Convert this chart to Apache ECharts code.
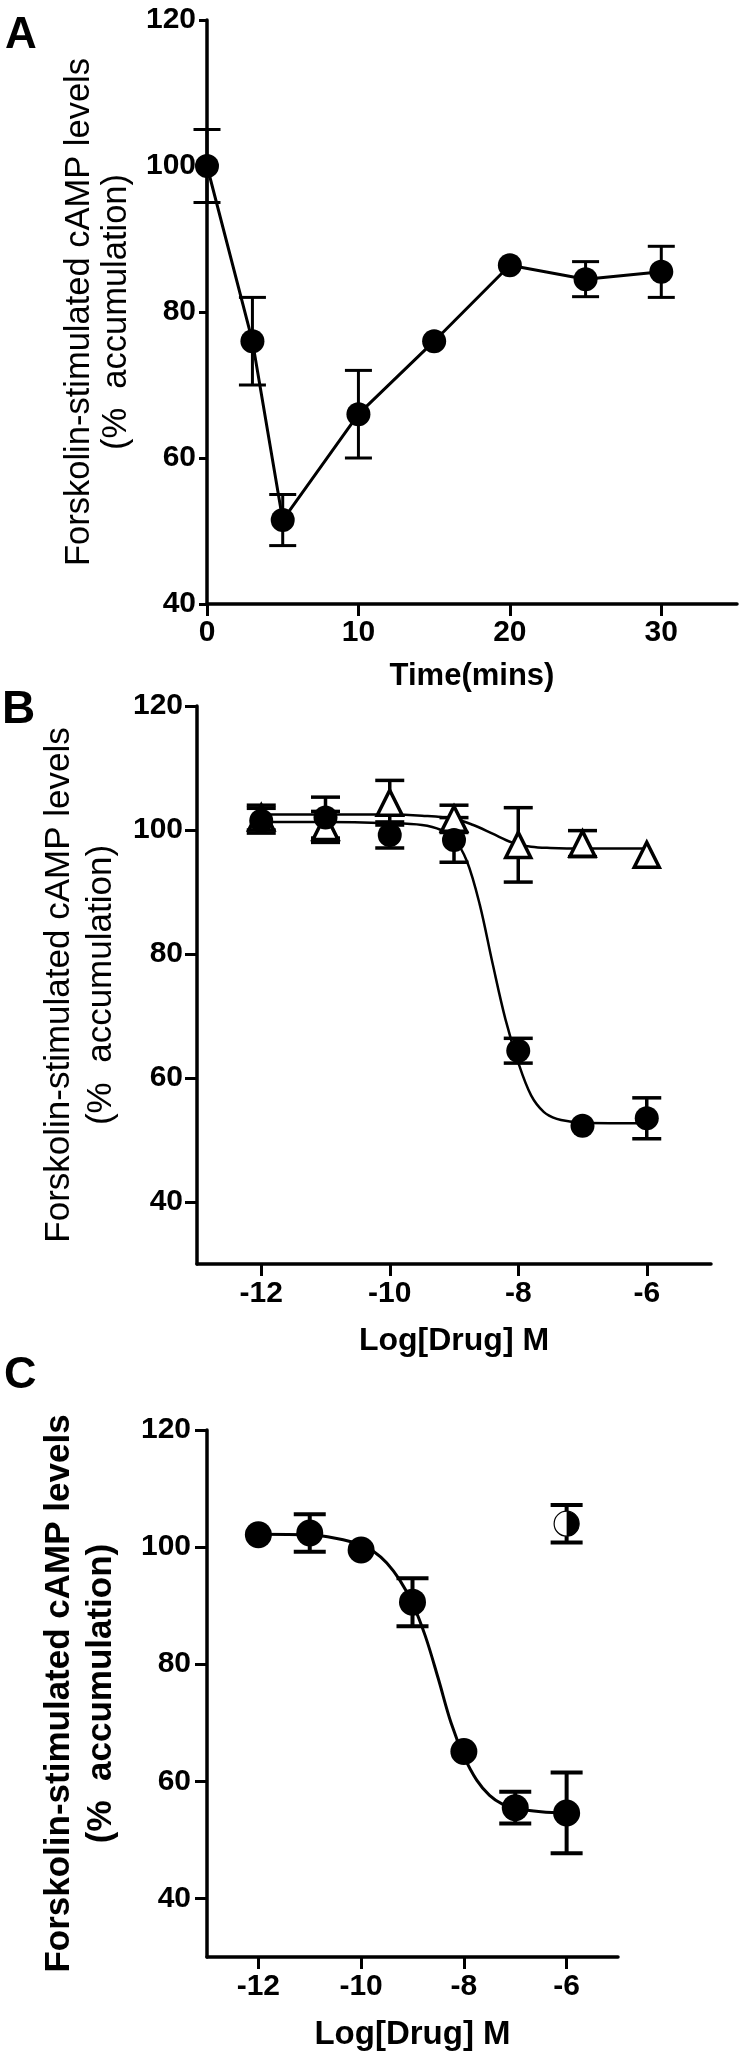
<!DOCTYPE html>
<html>
<head>
<meta charset="utf-8">
<title>Forskolin-stimulated cAMP levels</title>
<script src="https://cdn.jsdelivr.net/npm/echarts@6/dist/echarts.min.js"></script>
<style>
  html, body { margin: 0; padding: 0; background: #fff; }
  #chart { width: 747px; height: 2063px; }
</style>
</head>
<body>
<div id="chart"></div>
<script>
// panel A: time course
const timeMins = [0, 3, 5, 10, 15, 20, 25, 30];
const timeMean = [100, 76, 51.5, 66, 76, 86.4, 84.5, 85.5];
const timeErr = [5, 6, 3.5, 6, 0, 0, 2.4, 3.5];
const timeTicks = [0, 10, 20, 30];
const percentTicks = [40, 60, 80, 100, 120];

// panel B: concentration-response, two drugs
const logDose = [-12, -11, -10, -9, -8, -7, -6];
const bCircleMean = [101.5, 102, 99.2, 98.4, 64.4, 52.3, 53.5];
const bCircleErr = [2, 3.3, 2.1, 3.6, 2, 0, 3.3];
const bTriangleMean = [102, 100.5, 104.4, 101.8, 97.6, 97.8, 96];
const bTriangleErr = [2, 2.5, 3.6, 2.2, 6, 2.1, 0];
const bCircleFitX = [-12, -11, -10, -9.5, -9.2, -9, -8.8, -8.6, -8.4, -8.2, -8, -7.8, -7.6, -7.4, -7.2, -7, -6];
const bCircleFitY = [101.3, 101.3, 101.1, 100.8, 100, 98.6, 95, 88, 78.5, 69.5, 62.5, 57.2, 54.5, 53.4, 53, 52.8, 52.7];
const bTriangleFitX = [-12, -10, -9.5, -9, -8.7, -8.4, -8.1, -7.8, -7.5, -7, -6];
const bTriangleFitY = [102.5, 102.5, 102.3, 101.8, 100.8, 99.4, 98, 97.3, 97.1, 97, 97];

// panel C: concentration-response plus one half-filled point
const cMean = [102.1, 102.4, 99.5, 90.6, 65.1, 55.5, 54.6];
const cErr = [0, 3.2, 0, 4.1, 0, 2.7, 6.9];
const cFitX = [-12, -11, -10.5, -10, -9.75, -9.5, -9.25, -9, -8.75, -8.5, -8.25, -8, -7.75, -7.5, -7.25, -7, -6.5, -6];
const cFitY = [102.2, 102.1, 101.5, 100.4, 99.2, 97.3, 94.4, 90.4, 84.8, 77.6, 70, 64.3, 60.2, 57.6, 56.1, 55.4, 54.8, 54.6];
const cHalfDose = [-6];
const cHalfMean = [104];
const cHalfErr = [3.2];
const logTicks = [-12, -10, -8, -6];

const fontFamily = "'Liberation Sans', Arial, Helvetica, sans-serif";
const ink = "#000";

const zip = (xs, ys) => xs.map((x, i) => [x, ys[i]]);

function errorBarSeries(axisIndex, xs, means, errs, capHalf, width) {
  const data = [];
  xs.forEach((x, i) => {
    if (errs[i] > 0) {
      data.push([x, means[i] - errs[i], means[i] + errs[i]]);
    }
  });
  return {
    type: "custom",
    xAxisIndex: axisIndex,
    yAxisIndex: axisIndex,
    clip: false,
    z: 3,
    data,
    renderItem: (params, api) => {
      const lo = api.coord([api.value(0), api.value(1)]);
      const hi = api.coord([api.value(0), api.value(2)]);
      const style = { stroke: ink, lineWidth: width, fill: null };
      return {
        type: "group",
        children: [
          { type: "line", shape: { x1: lo[0], y1: lo[1], x2: hi[0], y2: hi[1] }, style },
          { type: "line", shape: { x1: hi[0] - capHalf, y1: hi[1], x2: hi[0] + capHalf, y2: hi[1] }, style },
          { type: "line", shape: { x1: lo[0] - capHalf, y1: lo[1], x2: lo[0] + capHalf, y2: lo[1] }, style }
        ]
      };
    }
  };
}

function valueAxis(gridIndex, min, max, ticks, tickLen, labelSize, labelMargin) {
  return {
    type: "value",
    gridIndex,
    min,
    max,
    axisLine: { show: true, onZero: false, lineStyle: { color: ink, width: 3.5 } },
    axisTick: { show: true, length: tickLen, customValues: ticks, lineStyle: { color: ink, width: 3 } },
    axisLabel: {
      customValues: ticks,
      color: ink,
      fontSize: labelSize,
      fontWeight: "bold",
      fontFamily,
      margin: labelMargin
    },
    splitLine: { show: false }
  };
}

const yTitle = "Forskolin-stimulated cAMP levels\n(%  accumulation)";

const xAxes = [
  Object.assign(valueAxis(0, 0, 35, timeTicks, 12, 30, 14), {
    name: "Time(mins)",
    nameLocation: "middle",
    nameGap: 57,
    nameTextStyle: { color: ink, fontSize: 31, fontWeight: "bold", fontFamily }
  }),
  Object.assign(valueAxis(1, -13, -5, logTicks, 12, 30, 15), {
    name: "Log[Drug] M",
    nameLocation: "middle",
    nameGap: 61,
    nameTextStyle: { color: ink, fontSize: 32, fontWeight: "bold", fontFamily }
  }),
  Object.assign(valueAxis(2, -13, -5, logTicks, 12, 30, 15), {
    name: "Log[Drug] M",
    nameLocation: "middle",
    nameGap: 61,
    nameTextStyle: { color: ink, fontSize: 33, fontWeight: "bold", fontFamily }
  })
];

const yAxes = [
  Object.assign(valueAxis(0, 40, 120, percentTicks, 8, 30, 11), {
    name: yTitle,
    nameLocation: "middle",
    nameRotate: 90,
    nameGap: 72,
    nameTextStyle: { color: ink, fontSize: 34.5, fontWeight: "normal", fontFamily, lineHeight: 37 }
  }),
  Object.assign(valueAxis(1, 30, 120, percentTicks, 12, 30, 14), {
    name: yTitle,
    nameLocation: "middle",
    nameRotate: 90,
    nameGap: 73,
    nameTextStyle: { color: ink, fontSize: 35, fontWeight: "normal", fontFamily, lineHeight: 42 }
  }),
  Object.assign(valueAxis(2, 30, 120, percentTicks, 12, 30, 16), {
    name: yTitle,
    nameLocation: "middle",
    nameRotate: 90,
    nameGap: 85,
    nameTextStyle: { color: ink, fontSize: 35, fontWeight: "bold", fontFamily, lineHeight: 42 }
  })
];

function panelLetter(text, left, centerY, size) {
  return {
    type: "text",
    left,
    top: centerY - size / 2,
    style: { text, fill: ink, font: `bold ${size}px ${fontFamily}` }
  };
}

const option = {
  animation: false,
  backgroundColor: "#fff",
  grid: [
    { left: 207, top: 20, width: 530, height: 584 },
    { left: 197, top: 706, width: 514, height: 558 },
    { left: 207, top: 1430, width: 411, height: 527 }
  ],
  xAxis: xAxes,
  yAxis: yAxes,
  graphic: [
    panelLetter("A", 5, 36, 44),
    panelLetter("B", 2, 710, 46),
    panelLetter("C", 4, 1376, 45)
  ],
  series: [
    // A
    errorBarSeries(0, timeMins, timeMean, timeErr, 13.5, 3),
    {
      type: "line",
      xAxisIndex: 0,
      yAxisIndex: 0,
      data: zip(timeMins, timeMean),
      symbol: "circle",
      symbolSize: 24,
      lineStyle: { color: ink, width: 3 },
      itemStyle: { color: ink, opacity: 1 },
      z: 4
    },
    // B
    {
      type: "line",
      xAxisIndex: 1,
      yAxisIndex: 1,
      data: zip(bTriangleFitX, bTriangleFitY),
      showSymbol: false,
      smooth: 0.35,
      lineStyle: { color: ink, width: 2.5 },
      z: 2
    },
    {
      type: "line",
      xAxisIndex: 1,
      yAxisIndex: 1,
      data: zip(bCircleFitX, bCircleFitY),
      showSymbol: false,
      smooth: 0.35,
      lineStyle: { color: ink, width: 2.5 },
      z: 2
    },
    errorBarSeries(1, logDose, bTriangleMean, bTriangleErr, 14.5, 3.5),
    errorBarSeries(1, logDose, bCircleMean, bCircleErr, 14.5, 3.5),
    {
      type: "scatter",
      xAxisIndex: 1,
      yAxisIndex: 1,
      data: zip(logDose, bTriangleMean),
      symbol: "triangle",
      symbolSize: 25,
      itemStyle: { color: "#fff", borderColor: ink, borderWidth: 3.5, opacity: 1 },
      z: 4
    },
    {
      type: "scatter",
      xAxisIndex: 1,
      yAxisIndex: 1,
      data: zip(logDose, bCircleMean),
      symbol: "circle",
      symbolSize: 24,
      itemStyle: { color: ink, opacity: 1 },
      z: 5
    },
    // C
    {
      type: "line",
      xAxisIndex: 2,
      yAxisIndex: 2,
      data: zip(cFitX, cFitY),
      showSymbol: false,
      smooth: 0.35,
      lineStyle: { color: ink, width: 3 },
      z: 2
    },
    errorBarSeries(2, logDose, cMean, cErr, 16, 4),
    errorBarSeries(2, cHalfDose, cHalfMean, cHalfErr, 16, 4),
    {
      type: "scatter",
      xAxisIndex: 2,
      yAxisIndex: 2,
      data: zip(logDose, cMean),
      symbol: "circle",
      symbolSize: 27,
      itemStyle: { color: ink, opacity: 1 },
      z: 5
    },
    {
      type: "custom",
      xAxisIndex: 2,
      yAxisIndex: 2,
      z: 6,
      data: zip(cHalfDose, cHalfMean),
      renderItem: (params, api) => {
        const p = api.coord([api.value(0), api.value(1)]);
        const r = 12.5;
        return {
          type: "group",
          children: [
            { type: "circle", shape: { cx: p[0], cy: p[1], r }, style: { fill: "#fff", stroke: ink, lineWidth: 1.2 } },
            {
              type: "sector",
              shape: { cx: p[0], cy: p[1], r, r0: 0, startAngle: -Math.PI / 2, endAngle: Math.PI / 2, clockwise: true },
              style: { fill: ink }
            }
          ]
        };
      }
    }
  ]
};

const chart = echarts.init(document.getElementById("chart"), null, { renderer: "canvas" });
chart.setOption(option);
</script>
</body>
</html>
